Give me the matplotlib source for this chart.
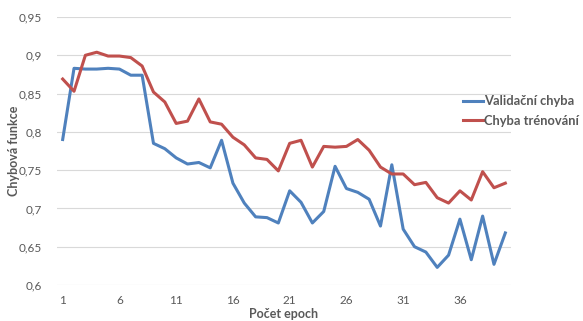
import matplotlib
matplotlib.use("Agg")
import matplotlib.pyplot as plt

# Loss per training epoch
epochs = list(range(1, 41))
validacni_chyba = [
    0.790, 0.883, 0.882, 0.882, 0.883, 0.882, 0.874, 0.874, 0.785, 0.778,
    0.766, 0.758, 0.760, 0.753, 0.789, 0.733, 0.707, 0.689, 0.688, 0.681,
    0.723, 0.708, 0.681, 0.696, 0.755, 0.726, 0.721, 0.712, 0.677, 0.757,
    0.673, 0.650, 0.643, 0.623, 0.639, 0.686, 0.633, 0.690, 0.627, 0.668,
]
chyba_trenovani = [
    0.869, 0.853, 0.900, 0.904, 0.899, 0.899, 0.897, 0.886, 0.852, 0.839,
    0.811, 0.814, 0.843, 0.813, 0.810, 0.793, 0.783, 0.766, 0.764, 0.749,
    0.785, 0.789, 0.754, 0.781, 0.780, 0.781, 0.790, 0.776, 0.754, 0.745,
    0.745, 0.731, 0.734, 0.714, 0.707, 0.723, 0.711, 0.748, 0.727, 0.733,
]
y_ticks = [0.6, 0.65, 0.7, 0.75, 0.8, 0.85, 0.9, 0.95]
y_tick_labels = ["0,6", "0,65", "0,7", "0,75", "0,8", "0,85", "0,9", "0,95"]
x_ticks = [1, 6, 11, 16, 21, 26, 31, 36]

plt.rcParams["font.family"] = ["Lato", "DejaVu Sans"]

fig = plt.figure(figsize=(5.83, 3.21), dpi=100)
ax = fig.add_axes([57 / 583, 1 - 285 / 321, (511 - 57) / 583, (285 - 17) / 321])

ax.plot(epochs, validacni_chyba, color="#4F81BD", lw=2.2,
        label="Validační chyba", solid_joinstyle="round")
ax.plot(epochs, chyba_trenovani, color="#C0504D", lw=2.2,
        label="Chyba trénování", solid_joinstyle="round")

ax.set_xlim(0.5, 40.5)
ax.set_ylim(0.6, 0.95)
ax.set_yticks(y_ticks)
ax.set_yticklabels(y_tick_labels)
ax.set_xticks(x_ticks)
ax.set_xticklabels([str(t) for t in x_ticks])

ax.grid(axis="y", color="#d9d9d9", lw=0.8)
ax.set_axisbelow(True)
for s in ax.spines.values():
    s.set_visible(False)
ax.tick_params(axis="both", length=0, labelsize=8.5, colors="#595959")
ax.tick_params(axis="y", pad=11)
ax.tick_params(axis="x", pad=7)

ax.set_xlabel("Počet epoch", fontsize=9, fontweight="bold", color="#595959", labelpad=2)
ax.set_ylabel("Chybová funkce", fontsize=9, fontweight="bold", color="#595959")
ax.yaxis.set_label_coords((20 - 57) / 454, 0.5)

fig.legend(loc="center left", bbox_to_anchor=(458 / 583, 1 - 111 / 321),
           frameon=False, handlelength=1.5, handletextpad=0.1,
           labelspacing=0.55, prop={"weight": "bold", "size": 9.3},
           labelcolor="#595959", borderaxespad=0)

fig.savefig("out.png", dpi=100)
